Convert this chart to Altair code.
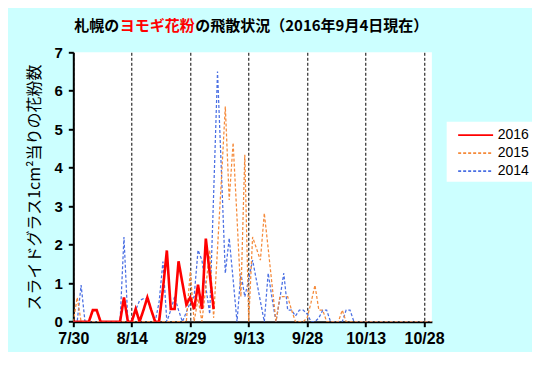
import altair as alt
import pandas as pd

# ---- text ----
title_parts = ["札幌の", "ヨモギ花粉", "の飛散状況（2016年9月4日現在）"]
y_title = "スライドグラス1cm²当りの花粉数"
x_tick_days = [0, 15, 30, 45, 60, 75, 90]
x_tick_labels = ["7/30", "8/14", "8/29", "9/13", "9/28", "10/13", "10/28"]
y_ticks = [0, 1, 2, 3, 4, 5, 6, 7]
years = ["2016", "2015", "2014"]
colors = ["#FF0000", "#F58A3A", "#4A6FE3"]

# ---- daily values, day 0 = 7/30 ----
v2016 = [0, 0, 0, 0, 0, 0.3, 0.3, 0, 0, 0, 0, 0, 0, 0.63, 0, 0, 0.33, 0, 0.3,
         0.63, 0.3, 0, 0, 0.85, 1.85, 0.33, 0.33, 1.57, 1.0, 0.45, 0.63, 0.33,
         0.96, 0.33, 2.16, 1.25, 0.33]

v2015 = [0, 0.63, 0, 0, 0, 0, 0, 0, 0, 0, 0, 0, 0, 0, 0, 0, 0, 0, 0, 0,
         0, 0, 0, 0, 0, 0, 0, 0, 0, 0, 1.3, 0, 0.6, 0, 0.9, 1.86, 0.1, 1.9,
         3.7, 5.59, 3.16, 4.65, 2.7, 0.65, 4.34, 0, 2.2, 1.9, 1.6, 2.82, 1.9,
         0.95, 0, 0.65, 0.65, 0.65, 0.3, 0, 0, 0, 0.1, 0.5, 0.95, 0.3, 0.3, 0,
         0, 0, 0, 0.3, 0, 0, 0, 0, 0, 0, 0, 0, 0, 0, 0, 0, 0, 0, 0, 0, 0, 0,
         0, 0, 0, 0, 0]

v2014 = [0, 0, 0.95, 0, 0, 0, 0, 0, 0, 0, 0, 0, 0, 2.2, 0, 0, 0.3, 0.55, 0.6,
         0.6, 0.3, 0, 0.5, 1.56, 0, 0.3, 0.65, 0.3, 0, 0.25, 0.5, 0.65, 1.86,
         1.6, 0.9, 0.2, 3.3, 6.5, 3.9, 1.26, 2.17, 1.1, 0, 1.26, 0.65, 1.1, 1.6,
         1.07, 0.53, 0, 1.26, 0.6, 0, 0.6, 1.26, 0.3, 0.3, 0.15, 0.3, 0.3, 0.2,
         0, 0, 0.1, 0.3, 0.3, 0, 0, 0, 0, 0.3, 0.3, 0, 0, 0, 0, 0, 0, 0, 0, 0,
         0, 0, 0, 0, 0, 0, 0, 0, 0, 0, 0, 0]

rows = []
for yr, vals in [("2014", v2014), ("2015", v2015), ("2016", v2016)]:
    for d, v in enumerate(vals):
        rows.append({"day": d, "value": v, "year": yr})
df = pd.DataFrame(rows)

label_expr = ("[" + ",".join("'%s'" % s for s in x_tick_labels) + "][indexof(["
              + ",".join(str(v) for v in x_tick_days) + "], datum.value)]")

legend = alt.Legend(
    title=None, orient="none", legendX=373.4, legendY=69.4,
    fillColor="white", padding=3, rowPadding=0,
    symbolType="M-0.22,0H3.56", symbolSize=342, symbolStrokeWidth=1.8,
    labelFont="Liberation Sans", labelFontSize=14, labelColor="black",
    labelOffset=27,
)

lines = alt.Chart(df).mark_line(clip=True).encode(
    x=alt.X("day:Q",
            scale=alt.Scale(domain=[0, 92], nice=False, zero=False),
            axis=alt.Axis(values=x_tick_days, labelExpr=label_expr, title=None,
                          grid=True, gridColor="black", gridDash=[3, 2], gridWidth=1,
                          domainColor="black", domainWidth=2,
                          tickColor="black", tickWidth=2, tickSize=5,
                          labelFont="Liberation Sans", labelFontSize=16,
                          labelFontWeight="bold", labelColor="black",
                          labelPadding=4, labelFlush=False)),
    y=alt.Y("value:Q",
            scale=alt.Scale(domain=[0, 7], nice=False),
            axis=alt.Axis(values=y_ticks, title=y_title, grid=False,
                          domainColor="black", domainWidth=2,
                          tickColor="black", tickWidth=2, tickSize=5,
                          labelFont="Liberation Sans", labelFontSize=15,
                          labelFontWeight="bold", labelColor="black",
                          labelPadding=6,
                          titleFont="Noto Sans CJK JP", titleFontSize=16,
                          titleFontWeight="normal", titleColor="black",
                          titleX=-39, titleY=134.7, titleAngle=270,
                          titleAlign="center", titleBaseline="middle")),
    color=alt.Color("year:N", scale=alt.Scale(domain=years, range=colors), legend=legend),
    strokeDash=alt.StrokeDash("year:N",
                              scale=alt.Scale(domain=years, range=[[1, 0], [3, 2], [3, 2]]),
                              legend=legend),
    strokeWidth=alt.condition("datum.year == '2016'", alt.value(2.6), alt.value(1.25)),
)

def title_seg(text, xpos, color):
    return alt.Chart(pd.DataFrame({"t": [text]})).mark_text(
        align="left", baseline="middle", font="Noto Sans CJK JP",
        fontSize=15, fontWeight="bold", color=color,
    ).encode(text="t:N", x=alt.value(xpos), y=alt.value(-26))

t1 = title_seg(title_parts[0], 1, "black")
t2 = title_seg(title_parts[1], 46.5, "#FF0000")
t3 = title_seg(title_parts[2], 122, "black")

chart = alt.layer(lines, t1, t2, t3).properties(
    width=358.6, height=269.4,
    padding={"left": 65.3, "top": 44.3, "right": 100, "bottom": 30},
    autosize=alt.AutoSizeParams(type="none"),
    background="#CCFFFF",
).configure_view(fill="white", stroke=None)

chart.save("out.html", embed_options={"renderer": "svg", "actions": False})
